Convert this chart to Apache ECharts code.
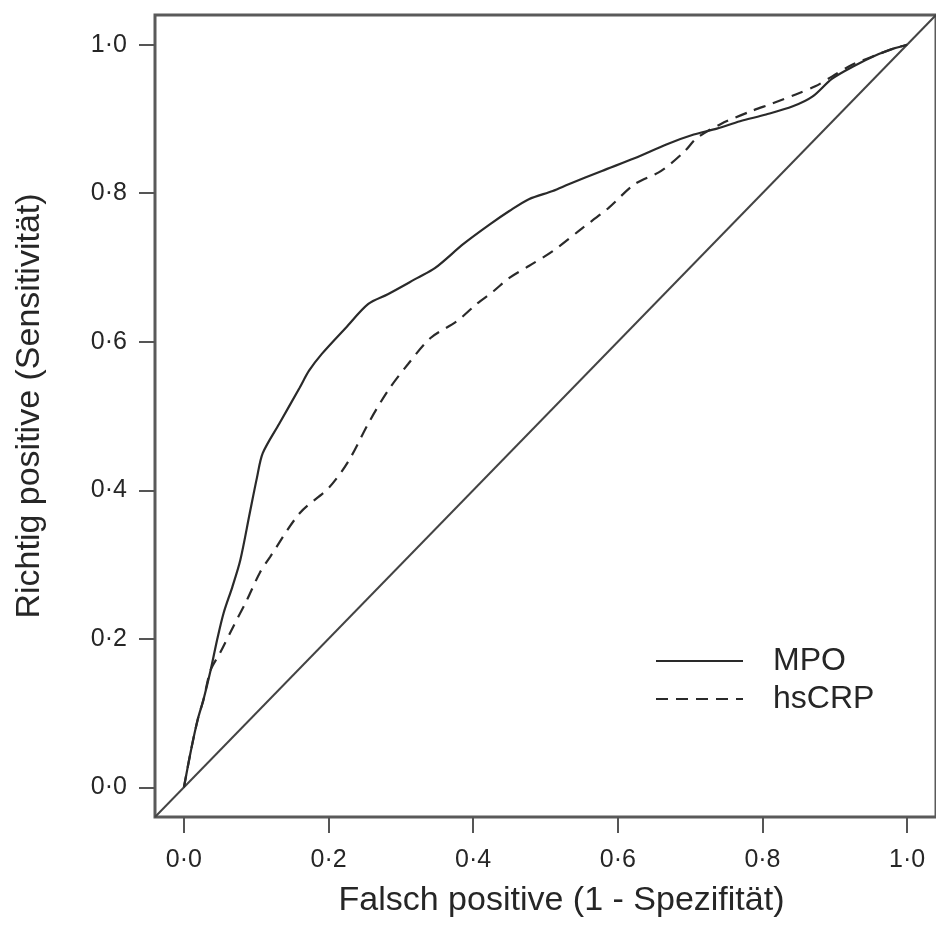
<!DOCTYPE html>
<html>
<head>
<meta charset="utf-8">
<script src="https://cdn.jsdelivr.net/npm/echarts@6/dist/echarts.min.js"></script>
<style>
  html, body { margin: 0; padding: 0; background: #fff; }
  #chart { width: 936px; height: 929px; }
</style>
</head>
<body>
<div id="chart"></div>
<script>
// ROC-Kurven
const ticks = [0, 0.2, 0.4, 0.6, 0.8, 1.0]

const mpoFpr = [0, 0.010, 0.019, 0.027, 0.037, 0.046, 0.055, 0.067, 0.078, 0.091, 0.101, 0.109, 0.132, 0.160, 0.173, 0.191,
  0.224, 0.255, 0.282, 0.323, 0.347, 0.387, 0.423, 0.450, 0.477, 0.510, 0.532, 0.578, 0.623, 0.668, 0.705, 0.737,
  0.769, 0.805, 0.842, 0.869, 0.896, 0.924, 0.960, 0.982, 1.0]
const mpoTpr = [0, 0.051, 0.091, 0.118, 0.158, 0.199, 0.235, 0.270, 0.306, 0.369, 0.417, 0.450, 0.490, 0.538, 0.561, 0.584,
  0.619, 0.651, 0.664, 0.686, 0.699, 0.732, 0.758, 0.776, 0.792, 0.803, 0.812, 0.830, 0.847, 0.866, 0.879, 0.887,
  0.897, 0.906, 0.917, 0.930, 0.954, 0.970, 0.987, 0.995, 1.0]

const crpFpr = [0, 0.010, 0.019, 0.027, 0.037, 0.050, 0.068, 0.087, 0.105, 0.119, 0.160, 0.201, 0.228, 0.255, 0.282, 0.310,
  0.341, 0.378, 0.405, 0.428, 0.450, 0.477, 0.510, 0.551, 0.587, 0.623, 0.660, 0.692, 0.709, 0.742, 0.783, 0.814,
  0.846, 0.873, 0.896, 0.924, 0.960, 0.982, 1.0]
const crpTpr = [0, 0.051, 0.091, 0.118, 0.158, 0.181, 0.216, 0.252, 0.289, 0.310, 0.369, 0.404, 0.440, 0.490, 0.534, 0.570,
  0.605, 0.628, 0.651, 0.668, 0.686, 0.702, 0.722, 0.753, 0.780, 0.812, 0.830, 0.856, 0.874, 0.893, 0.910, 0.921,
  0.933, 0.944, 0.957, 0.973, 0.987, 0.995, 1.0]

// Diagonale (Zufallslinie)
const diagX = [-0.04, 1.04]
const diagY = [-0.04, 1.04]

const zip = (xs, ys) => xs.map((x, i) => [x, ys[i]])
const fmt = v => v.toFixed(1).replace('.', '·')

const font = "'Liberation Sans', Arial, sans-serif"
const ink = '#262626'

const chart = echarts.init(document.getElementById('chart'))

const axisCommon = {
  type: 'value',
  min: -0.04,
  max: 1.04,
  splitLine: { show: false },
  axisLine: { show: false, onZero: false },
  axisTick: {
    show: true,
    length: 16,
    customValues: ticks,
    lineStyle: { color: '#555', width: 2 }
  },
  nameLocation: 'middle',
  nameTextStyle: { fontFamily: font, fontSize: 34, color: ink }
}

const labelCommon = {
  customValues: ticks,
  formatter: fmt,
  fontFamily: font,
  fontSize: 25,
  color: ink
}

chart.setOption({
  animation: false,
  grid: {
    show: true,
    left: 155,
    top: 15,
    right: -9,
    bottom: 112,
    borderColor: '#5a5a5a',
    borderWidth: 3,
    backgroundColor: 'transparent'
  },
  legend: {
    orient: 'vertical',
    left: 655,
    top: 645,
    padding: 0,
    itemWidth: 87,
    itemHeight: 14,
    itemGap: 6,
    data: ['MPO', 'hsCRP'],
    itemStyle: { opacity: 0 },
    textStyle: { fontFamily: font, fontSize: 32, color: ink, padding: [0, 0, 0, 25] }
  },
  xAxis: {
    ...axisCommon,
    name: 'Falsch positive (1 - Spezifität)',
    nameGap: 67,
    nameTextStyle: { ...axisCommon.nameTextStyle, padding: [0, 0, 0, 32] },
    axisLabel: { ...labelCommon, margin: 31 }
  },
  yAxis: {
    ...axisCommon,
    name: 'Richtig positive (Sensitivität)',
    nameGap: 108,
    nameTextStyle: { ...axisCommon.nameTextStyle, padding: [0, 0, 0, 20] },
    axisLabel: { ...labelCommon, margin: 28 }
  },
  series: [
    {
      name: 'diagonal',
      type: 'line',
      data: zip(diagX, diagY),
      symbol: 'none',
      clip: true,
      silent: true,
      lineStyle: { color: '#444', width: 2 }
    },
    {
      name: 'MPO',
      type: 'line',
      data: zip(mpoFpr, mpoTpr),
      symbol: 'none',
      smooth: 0.3,
      itemStyle: { color: '#2a2a2a' },
      lineStyle: { color: '#2a2a2a', width: 2.2, type: 'solid' }
    },
    {
      name: 'hsCRP',
      type: 'line',
      data: zip(crpFpr, crpTpr),
      symbol: 'none',
      smooth: 0.3,
      itemStyle: { color: '#2a2a2a' },
      lineStyle: { color: '#2a2a2a', width: 2.2, type: [12, 8] }
    }
  ]
})
</script>
</body>
</html>
